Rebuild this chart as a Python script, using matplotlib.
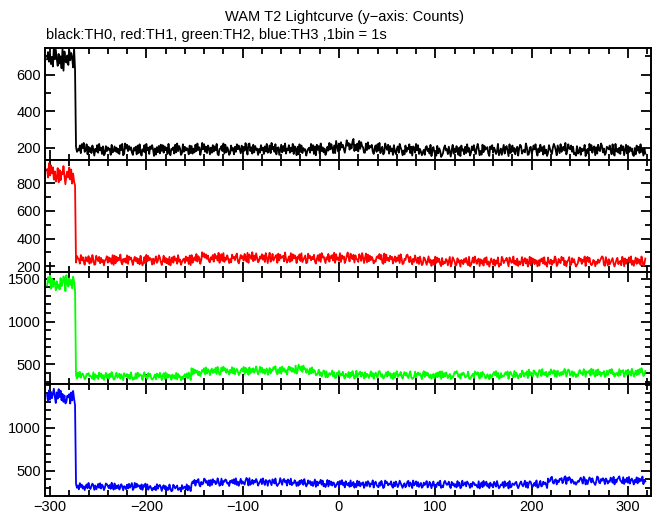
import matplotlib.pyplot as plt
import numpy as np
from matplotlib.ticker import MultipleLocator

plt.rcParams['font.family'] = ['Liberation Sans', 'DejaVu Sans']

# time of first bin (s) and bin width (1bin = 1s)
t_start = -303
t_step = 1

# mean level per 10 s block
level_th0 = [690, 680, 685, 195,
             188, 190, 185, 190, 192, 188, 190, 186, 190, 192, 188,
             192, 195, 190, 192, 188, 194, 192, 190, 195, 192, 190, 188,
             190, 192, 195, 205,
             215, 205, 198, 195, 192, 190,
             188, 190, 185, 180,
             182, 185, 188, 190, 186, 190, 185, 188, 192, 188,
             186, 190, 195, 188, 185, 190, 192, 188, 190, 186, 188, 185]
level_th1 = [880, 860, 850, 245,
             245, 240, 244, 248, 243, 240, 246, 243, 240, 244, 242,
             252, 264, 260, 258, 255, 260, 264, 258, 260, 262, 258, 257,
             254, 258, 260, 258,
             262, 258, 255, 252, 255, 250,
             248, 242, 236, 234,
             232, 230, 233, 235, 230, 229, 233, 235, 231, 233,
             230, 235, 233, 231, 235, 233, 236, 231, 233, 236, 235, 228]
level_th2 = [1450, 1440, 1455, 370,
             365, 362, 368, 360, 365, 362, 366, 360, 364, 358, 362,
             410, 420, 425, 428, 422, 425, 430, 426, 432, 428, 440, 450,
             420, 395, 385, 380,
             378, 382, 376, 380, 375, 378,
             376, 372, 378, 375,
             374, 378, 372, 376, 370, 378, 375, 380, 385, 395,
             400, 398, 402, 396, 400, 405, 398, 402, 400, 404, 410, 400]
level_th3 = [1370, 1365, 1345, 315,
             318, 315, 320, 312, 316, 318, 310, 304, 300, 298, 302,
             360, 365, 368, 365, 368, 372, 370, 368, 366, 370, 365, 360,
             355, 352, 350, 348,
             345, 342, 346, 340, 344, 342,
             340, 344, 338, 342,
             340, 338, 342, 336, 340, 338, 335, 338, 342, 345,
             340, 385, 390, 382, 385, 378, 388, 385, 390, 384, 388, 380]

# bin-to-bin scatter, one digit per 1 s bin (0 = low, 9 = high)
jitter_th0 = """
4736251948 5273619084 3628475190 6243718592 4917362850
5382946170 2847561934 7362518490 1958374620 6471829305
3829461758 5061738294 8274619305 4618293750 2937465182
7152839460 3948261750 6283749105 5739182640 2846173958
4172639508 9361827450 5284617392 3719462805 6048273915
4826391750 7193826450 3562948170 8471936250 2639485171
9517284630 3846152790 6271938540 1839465720 5728391460
2964817350 8315729640 4183659270 7629481530 3517846290
6842193750 1379562840 5926384170 8451729360 2748316950
4193856720 7582641390 3615927840 9248361570 5871342960
1672485930 6394718250 2853169740 7418256390 4965837120
8237164590 3519482670 6184397250 2765841930 9352618470
5928374610 6184729350 62"""
jitter_th1 = """
6293847150 3817265940 5749381620 2865194730 7438162950
1964827350 4582736190 8173649205 3629185740 5847261930
2719384650 6158249730 4937261805 7284619350 3562847190
8146392750 2958473610 5371846290 6829153740 4185637920
3746285190 7539162840 2648371950 5913824670 8274561930
3619284750 6482913570 1957364820 4728195630 5381647290
8352917460 2694185370 7431862950 5918273640 3267594810
9183527460 4726381950 1548962730 6395271840 2874159360
5619384720 8243761590 3975128460 6527483190 1483952670
7361849250 4852716390 2197356840 8634925170 5249168370
3918472650 6175839240 8426153970 2743968150 5691284730
1385726490 7948312650 4263579810 9517246830 3682451970
7264839150 4827361950 38"""
jitter_th2 = """
3859172640 6241835970 9427361850 5183926740 2768453190
7351948260 4826173950 1693582740 8547261930 3182947650
6935184720 2471863950 5819273640 7362918450 4157382960
9283746150 3648192750 5726381940 1849572630 6392815740
2574918360 8163725940 4938261570 3715486920 6281947350
5847263190 2963718450 7418293650 3592614870 8136459270
1759364820 6428173950 3916582740 8265149370 4731896250
2583947160 7169254830 5847316920 1392685740 6928473150
4615728390 9273851460 3148697250 7586234910 2461975830
8397512640 5136849270 1724368590 6853192740 3519726480
9264187350 4871935260 2639548170 7415263980 5982371640
3168452970 6547193820 8293615470 1726849350 4351927680
4728361950 3617284950 27"""
jitter_th3 = """
5182736940 7394826150 2657183940 8361947250 4729315860
6148392750 3875261940 9263714850 5417283690 2938465170
7592814630 4261937850 6837152940 1974682350 8356291740
3648175920 5239846170 7184623950 2916587340 6473829150
4825316970 9137264850 3582941760 6741853920 2395178460
8629143750 5173862940 3847261590 7265938140 4918372650
2571849360 8436192570 5193826470 3728615490 6842173950
1967354820 7285149630 4613892750 9358271460 2746913850
5824167390 3179645820 8462519370 1935728640 6287453190
4719368250 7351862940 2548193670 9126547830 3684259170
5873146290 1692385740 7348921560 4265713890 8597264130
2436851970 6159738420 3982164750 7514386290 5267943180
6382915740 5281736490 64"""


def build_curve(levels, jitter):
    digits = np.array([int(c) for c in jitter if c.isdigit()])
    idx = np.arange(len(digits))
    t = t_start + t_step * idx
    block = np.minimum(idx * t_step // 10, len(levels) - 1)
    base = np.array(levels, dtype=float)[block]
    counts = base + (digits - 4.5) * 0.5 * np.sqrt(base)
    return t, counts


def style_axis(ax, ymin, ymax, major, minor, yticks):
    ax.set_xlim(-305.2, 323.9)
    ax.set_ylim(ymin, ymax)
    ax.xaxis.set_major_locator(MultipleLocator(100))
    ax.xaxis.set_minor_locator(MultipleLocator(20))
    ax.yaxis.set_major_locator(MultipleLocator(major))
    ax.yaxis.set_minor_locator(MultipleLocator(minor))
    ax.set_yticks(yticks)
    ax.tick_params(which='both', direction='in', top=True, right=True,
                   labelsize=10.5, width=1.3, pad=3)
    ax.tick_params(which='major', length=7)
    ax.tick_params(which='minor', length=4)
    for sp in ax.spines.values():
        sp.set_linewidth(1.4)


if __name__ == '__main__':
    fig = plt.figure(figsize=(6.52, 5.15), dpi=100)
    gs = fig.add_gridspec(4, 1, left=0.069, right=0.9985, top=0.9068,
                          bottom=0.0369, hspace=0)
    axes = [fig.add_subplot(gs[i]) for i in range(4)]

    panels = [
        (level_th0, jitter_th0, "black", (133, 745), 200, 100, [200, 400, 600]),
        (level_th1, jitter_th1, "red", (157, 970), 200, 100, [200, 400, 600, 800]),
        (level_th2, jitter_th2, "#00ff00", (272, 1577), 500, 100, [500, 1000, 1500]),
        (level_th3, jitter_th3, "blue", (206, 1508), 500, 100, [500, 1000]),
    ]
    for ax, (levels, jitter, color, ylim, major, minor, yticks) in zip(axes, panels):
        t, counts = build_curve(levels, jitter)
        ax.plot(t, counts, color=color, lw=1.3)
        style_axis(ax, ylim[0], ylim[1], major, minor, yticks)
    for ax in axes[:-1]:
        ax.tick_params(labelbottom=False)

    fig.text(0.529, 0.967, "WAM T2 Lightcurve (y\u2212axis: Counts)",
             ha='center', va='center', fontsize=10.5)
    fig.text(0.0706, 0.932, "black:TH0, red:TH1, green:TH2, blue:TH3 ,1bin = 1s",
             ha='left', va='center', fontsize=10.5)

    fig.savefig("out.png", dpi=100)
